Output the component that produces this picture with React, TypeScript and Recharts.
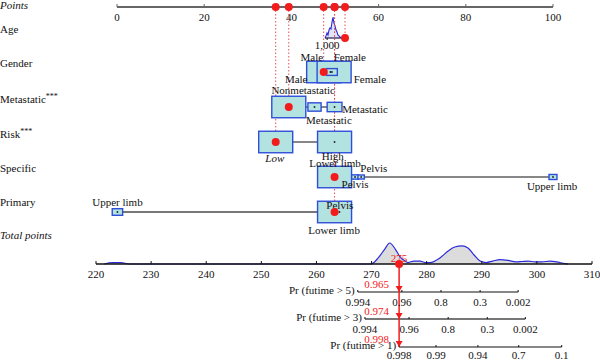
import React from 'react';
import { ComposedChart, XAxis, YAxis, Scatter, Line, Area } from 'recharts';

const FONT = '"Liberation Serif", "Times New Roman", Times, serif';
const INK = '#111111';
const RED = '#f21c1c';
const DOT_LINE = '#e0505a';
const BOX_FILL = '#b3e3e1';
const BOX_STROKE = '#2f4ed8';
const DENS_STROKE = '#2b2bd9';
const DENS_FILL = '#dcdcdc';

// ---------------- data ----------------
const pointTicks = [0, 20, 40, 60, 80, 100];
const totalTicks = [220, 230, 240, 250, 260, 270, 280, 290, 300, 310];
const rowNames = ['Points', 'Age', 'Gender', 'Metastatic***', 'Risk***', 'Specific', 'Primary', 'Total points'];

// Age distribution (on the points scale) with relative density
const ageDensPts = [47.71, 47.94, 48.17, 48.39, 48.62, 48.85, 49.08, 49.31, 49.54, 49.77, 50.0, 50.23, 50.46, 50.69, 50.92, 51.15, 51.61];
const ageDensVal = [0, 0.1, 0.24, 0.14, 0.38, 0.48, 0.43, 0.76, 1.0, 0.71, 0.57, 0.38, 0.29, 0.14, 0.1, 0.05, 0];
const ageAxisRange = [47.7, 52.3];
const ageTickLabels = ['1,000'];
const ageTickPts = [48.2];

// Categorical variables: points position and relative frequency
const genderPts = [47.4, 49.8, 49.3, 48.95];
const genderFreq = [1, 1, 0.1, 0];
const genderLabels = ['Male', 'Female', 'Male', 'Female'];
const genderLabelPts = [44.7, 53.4, 41.1, 58.0];

const metaPts = [39.4, 45.3, 49.9];
const metaFreq = [1, 0.15, 0.19];
const metaLabels = ['Nonmetastatic', 'Metastatic', 'Metastatic'];
const metaLabelPts = [42.7, 56.9, 48.6];

const riskPts = [36.4, 49.9];
const riskFreq = [1, 1];
const riskLabels = ['Low', 'High'];
const riskLabelPts = [36.2, 49.5];

const specificPts = [49.9, 54.6, 56.0, 100];
const specificFreq = [1, 0.04, 0.035, 0.055];
const specificLabels = ['Lower limb', 'Pelvis', 'Pelvis', 'Upper limb'];
const specificLabelPts = [50.0, 58.9, 54.6, 99.8];

const primaryPts = [0.1, 49.9, 51.0];
const primaryFreq = [0.094, 1, 0];
const primaryLabels = ['Upper limb', 'Pelvis', 'Lower limb'];
const primaryLabelPts = [0.1, 51.1, 49.8];

// Selected patient
const patientPts = [52.3, 47.4, 39.4, 36.4, 49.9, 49.9]; // Age, Gender, Metastatic, Risk, Specific, Primary
const patientTotal = 275;

// Total points distribution
const totDensPts = [221.5, 223, 224.5, 226, 269.9, 271.2, 272.3, 273.3, 274.3, 275.2, 276.1, 276.6, 277.7, 278.8, 279.7, 280.6, 282.4, 283.9, 285.1, 286.4, 287.5, 288.6, 289.7, 290.8, 292.0, 293.3, 294.8, 296.2, 297.3, 298.4, 299.7, 300.9, 302.4, 303.6, 305.1, 305.7];
const totDensVal = [0, 0.07, 0.07, 0, 0, 0.29, 0.67, 1.0, 0.71, 0.33, 0.14, 0.07, 0.14, 0.14, 0.07, 0.07, 0.29, 0.62, 0.81, 0.86, 0.76, 0.43, 0.14, 0.07, 0.14, 0.21, 0.17, 0.1, 0.12, 0.14, 0.1, 0.1, 0.14, 0.1, 0.02, 0];

// Survival probability scales (tick labels and their total-points positions)
const prTitles = ['Pr (futime > 5)', 'Pr (futime > 3)', 'Pr (futime > 1)'];
const pr5Labels = ['0.994', '0.96', '0.8', '0.3', '0.002'];
const pr5At = [267.5, 275.5, 282.6, 289.7, 296.6];
const pr3Labels = ['0.994', '0.96', '0.8', '0.3', '0.002'];
const pr3At = [268.8, 276.8, 283.9, 291.0, 297.9];
const pr1Labels = ['0.998', '0.99', '0.94', '0.7', '0.1'];
const pr1At = [275.0, 281.7, 289.3, 296.7, 304.5];
const prPredicted = ['0.965', '0.974', '0.998'];

// ---------------- layout ----------------
const ROW = { points: 7, age: 38, gender: 72, meta: 107, risk: 142, specific: 177, primary: 212, total: 264, pr5: 292, pr3: 319, pr1: 347 };
const ROW_LABEL_Y = [5, 29, 63, 99, 134, 168, 202, 235];
const AGE_DENS_H = 21;
const TOT_DENS_H = 21;
const BOX_W = 34;
const BOX_H = 21.5;

const TextShape = (props: any) => {
  const { cx, cy, payload } = props;
  const t: string = payload.text;
  const star = t.indexOf('*');
  return (
    <text
      x={cx + (payload.dx || 0)}
      y={cy + (payload.dy || 0)}
      textAnchor={payload.anchor || 'middle'}
      dominantBaseline="central"
      fontFamily={FONT}
      fontSize={payload.fs || 11}
      fontStyle={payload.italic ? 'italic' : 'normal'}
      fill={payload.color || INK}
    >
      {star >= 0 ? (
        <>
          {t.slice(0, star)}
          <tspan fontSize={8} dy={-3}>{t.slice(star)}</tspan>
        </>
      ) : t}
    </text>
  );
};

const BoxShape = (props: any) => {
  const { cx, cy, payload } = props;
  if (payload.f <= 0) return <circle cx={cx} cy={cy} r={1} fill="#222" />;
  const s = Math.sqrt(payload.f);
  const w = BOX_W * s;
  const h = BOX_H * s;
  return (
    <g>
      <rect x={cx - w / 2} y={cy - h / 2} width={w} height={h} fill={BOX_FILL} stroke={BOX_STROKE} strokeWidth={1.4} />
      <circle cx={cx} cy={cy} r={0.9} fill="#222" />
    </g>
  );
};

const TickShape = (props: any) => {
  const { cx, cy, payload } = props;
  return (
    <g>
      <line x1={cx} y1={cy} x2={cx} y2={cy - (payload.up ?? 3)} stroke={payload.stroke || INK} strokeWidth={1} />
      <text x={cx} y={cy + payload.dy} textAnchor="middle" dominantBaseline="central" fontFamily={FONT} fontSize={11} fill={INK}>
        {payload.text}
      </text>
    </g>
  );
};

const RedDot = (props: any) => <circle cx={props.cx} cy={props.cy} r={4} fill={RED} />;
const RedTri = (props: any) => {
  const { cx, cy } = props;
  return <path d={`M${cx - 3.5},${cy - 6} L${cx + 3.5},${cy - 6} L${cx},${cy} Z`} fill={RED} />;
};

const seg = (key: string, axis: string, x1: number, y1: number, x2: number, y2: number, stroke: string, width: number, dash?: string) => (
  <Line
    key={key}
    xAxisId={axis}
    yAxisId="y"
    data={[{ x: x1, y: y1 }, { x: x2, y: y2 }]}
    dataKey="y"
    type="linear"
    stroke={stroke}
    strokeWidth={width}
    strokeDasharray={dash}
    dot={false}
    activeDot={false}
    isAnimationActive={false}
    legendType="none"
  />
);

const sc = (key: string, axis: string, data: any[], shape: any) => (
  <Scatter key={key} xAxisId={axis} yAxisId="y" data={data} dataKey="y" shape={shape} isAnimationActive={false} legendType="none" />
);

export default function App() {
  const catRows = [
    { pts: genderPts, freq: genderFreq, labels: genderLabels, lpts: genderLabelPts, y: ROW.gender, dy: [-15, -15, 7, 7], italic: [] as string[] },
    { pts: metaPts, freq: metaFreq, labels: metaLabels, lpts: metaLabelPts, y: ROW.meta, dy: [-17, 2, 13], italic: [] },
    { pts: riskPts, freq: riskFreq, labels: riskLabels, lpts: riskLabelPts, y: ROW.risk, dy: [16, 14], italic: ['Low'] },
    { pts: specificPts, freq: specificFreq, labels: specificLabels, lpts: specificLabelPts, y: ROW.specific, dy: [-14, -9, 7, 9], italic: [] },
    { pts: primaryPts, freq: primaryFreq, labels: primaryLabels, lpts: primaryLabelPts, y: ROW.primary, dy: [-10, -7, 18], italic: [] },
  ];
  const connectRows = [
    { r: catRows[1], color: INK, w: 1.2 },
    { r: catRows[2], color: INK, w: 1.2 },
    { r: catRows[3], color: INK, w: 1.2 },
    { r: catRows[4], color: '#777', w: 1.8 },
  ];
  const patientRowY = [ROW.age, ROW.gender, ROW.meta, ROW.risk, ROW.specific, ROW.primary];

  const boxData = catRows.flatMap((r) => r.pts.map((p, i) => ({ x: p, y: r.y, f: r.freq[i] })));
  const catLabelData = catRows.flatMap((r) =>
    r.labels.map((t, i) => ({ x: r.lpts[i], y: r.y, text: t, dy: r.dy[i], italic: r.italic.includes(t), fs: 11 }))
  );

  const rowLabelData = rowNames.map((t, i) => ({ x: 0, y: ROW_LABEL_Y[i], text: t, anchor: 'start', italic: t === 'Points' || t === 'Total points', fs: 11 }));

  const ptsTickData = pointTicks.map((v) => ({ x: v, y: ROW.points, text: String(v), dy: 9.5, up: 3, stroke: '#666' }));
  const totTickData = totalTicks.map((v) => ({ x: v, y: ROW.total, text: String(v), dy: 10, up: 3 }));
  const ageTickData = ageTickPts.map((v, i) => ({ x: v, y: ROW.age, text: ageTickLabels[i], dy: 6.5, up: -2 }));

  const prRows = [
    { labels: pr5Labels, at: pr5At, y: ROW.pr5, color: INK, w: 1.2, ldy: 9.5 },
    { labels: pr3Labels, at: pr3At, y: ROW.pr3, color: '#777', w: 1.8, ldy: 9.5 },
    { labels: pr1Labels, at: pr1At, y: ROW.pr1, color: INK, w: 1.2, ldy: 7.5 },
  ];
  const prTickData = prRows.flatMap((r) => r.labels.map((t, i) => ({ x: r.at[i], y: r.y, text: t, dy: r.ldy, up: 2 })));
  const prTitleData = prRows.map((r, i) => ({ x: r.at[0], y: r.y, text: prTitles[i], anchor: 'end', dx: -3, dy: -2 }));
  const prPredData = prRows.map((r, i) => ({ x: patientTotal, y: r.y, text: prPredicted[i], anchor: 'end', dx: -10, dy: -8, color: RED }));

  const ageDensData = ageDensPts.map((p, i) => ({ x: p, y: ROW.age - ageDensVal[i] * AGE_DENS_H }));
  const totDensData = totDensPts.map((p, i) => ({ x: p, y: ROW.total - totDensVal[i] * TOT_DENS_H }));

  return (
    <div style={{ position: 'absolute', left: 0, top: 0, width: 600, height: 360, background: '#fff' }}>
      <ComposedChart width={600} height={360} margin={{ top: 0, right: 0, bottom: 0, left: 0 }}>
        <XAxis xAxisId="lay" dataKey="x" type="number" domain={[0, 600]} hide />
        <XAxis xAxisId="pts" dataKey="x" type="number" domain={[0, 100]} padding={{ left: 117, right: 47 }} hide />
        <XAxis xAxisId="tot" dataKey="x" type="number" domain={[220, 310]} padding={{ left: 96, right: 8 }} hide />
        <YAxis yAxisId="y" dataKey="y" type="number" domain={[0, 360]} reversed hide />

        {/* densities */}
        <Area xAxisId="tot" yAxisId="y" data={totDensData} dataKey="y" baseValue={ROW.total} type="monotone" stroke={DENS_STROKE} strokeWidth={1.2} fill={DENS_FILL} fillOpacity={1} dot={false} activeDot={false} isAnimationActive={false} legendType="none" />
        <Area xAxisId="pts" yAxisId="y" data={ageDensData} dataKey="y" baseValue={ROW.age} type="linear" stroke={DENS_STROKE} strokeWidth={1.1} fill="#e4e4f4" fillOpacity={1} dot={false} activeDot={false} isAnimationActive={false} legendType="none" />

        {/* axis lines */}
        {seg('ax-pts', 'pts', 0, ROW.points, 100, ROW.points, '#666', 2)}
        {seg('ax-age', 'pts', ageAxisRange[0], ROW.age, ageAxisRange[1], ROW.age, '#1c1c5a', 1.2)}
        {seg('ax-tot', 'tot', 220, ROW.total, 310, ROW.total, INK, 1.3)}
        {prRows.map((r, i) => seg('ax-pr' + i, 'tot', r.at[0], r.y, r.at[r.at.length - 1], r.y, r.color, r.w))}

        {/* connectors between categories */}
        {connectRows.map((c, i) => seg('con' + i, 'pts', Math.min(...c.r.pts), c.r.y, Math.max(...c.r.pts), c.r.y, c.color, c.w))}

        {/* category boxes */}
        {sc('boxes', 'pts', boxData, BoxShape)}

        {/* dotted guide lines from the points axis */}
        {patientPts.map((p, i) => seg('guide' + i, 'pts', p, ROW.points, p, patientRowY[i], DOT_LINE, 1, '1.5 2'))}

        {/* total -> probability red line */}
        {seg('redline', 'tot', patientTotal, ROW.total, patientTotal, ROW.pr1, RED, 1.5)}

        {/* ticks */}
        {sc('ticks-pts', 'pts', ptsTickData, TickShape)}
        {sc('ticks-age', 'pts', ageTickData, TickShape)}
        {sc('ticks-tot', 'tot', totTickData, TickShape)}
        {sc('ticks-pr', 'tot', prTickData, TickShape)}

        {/* labels */}
        {sc('row-labels', 'lay', rowLabelData, TextShape)}
        {sc('cat-labels', 'pts', catLabelData, TextShape)}
        {sc('pr-titles', 'tot', prTitleData, TextShape)}

        {/* patient markers */}
        {sc('pat-top', 'pts', patientPts.map((p) => ({ x: p, y: ROW.points })), RedDot)}
        {sc('pat-rows', 'pts', patientPts.map((p, i) => ({ x: p, y: patientRowY[i] })), RedDot)}
        {sc('pat-total', 'tot', [{ x: patientTotal, y: ROW.total }], RedDot)}
        {sc('pat-tri', 'tot', prRows.map((r) => ({ x: patientTotal, y: r.y })), RedTri)}
        {sc('pat-total-label', 'tot', [{ x: patientTotal, y: ROW.total, text: String(patientTotal), dy: -6, color: RED }], TextShape)}
        {sc('pat-pr-labels', 'tot', prPredData, TextShape)}
      </ComposedChart>
    </div>
  );
}
